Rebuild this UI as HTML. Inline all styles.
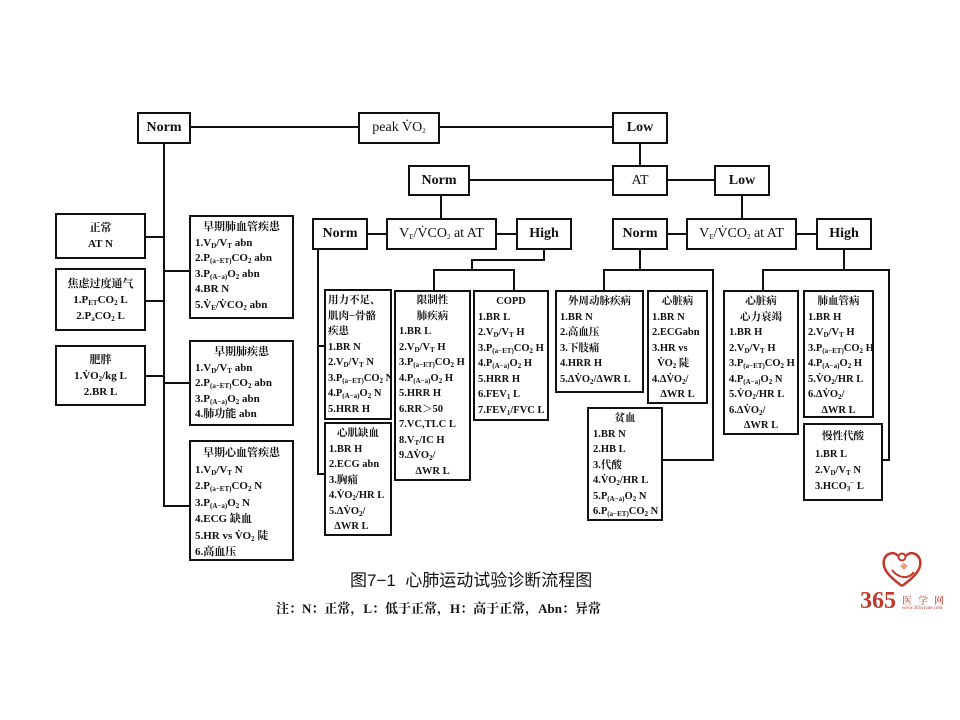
<!DOCTYPE html>
<html><head><meta charset="utf-8">
<style>
body{margin:0;width:960px;height:720px;background:#fff;position:relative;overflow:hidden;font-family:"Liberation Serif","Noto Serif CJK SC",serif;color:#111;}
.b{position:absolute;border:2px solid #111;box-sizing:border-box;background:#fff;font-size:11px;font-weight:bold;line-height:16px;padding:3px 4px;white-space:nowrap;overflow:hidden;}
.c{text-align:center;}
.h{position:absolute;border:2px solid #111;box-sizing:border-box;background:#fff;font-size:14px;font-weight:bold;text-align:center;white-space:nowrap;}
.h span{display:block;line-height:28px;}
.l{position:absolute;background:#111;}
sub{font-size:7px;vertical-align:baseline;position:relative;top:2px;line-height:0;}
sup{font-size:7px;vertical-align:baseline;position:relative;top:-4px;line-height:0;}
.t{text-align:center;}
</style></head><body>
<div class="l" style="left:190px;top:126px;width:422px;height:2px"></div>
<div class="l" style="left:163px;top:143px;width:2px;height:364px"></div>
<div class="l" style="left:639px;top:143px;width:2px;height:22px"></div>
<div class="l" style="left:470px;top:179px;width:244px;height:2px"></div>
<div class="l" style="left:440px;top:195px;width:2px;height:23px"></div>
<div class="l" style="left:741px;top:195px;width:2px;height:23px"></div>
<div class="l" style="left:368px;top:233px;width:148px;height:2px"></div>
<div class="l" style="left:668px;top:233px;width:148px;height:2px"></div>
<div class="l" style="left:145px;top:236px;width:20px;height:2px"></div>
<div class="l" style="left:145px;top:300px;width:20px;height:2px"></div>
<div class="l" style="left:145px;top:375px;width:20px;height:2px"></div>
<div class="l" style="left:163px;top:270px;width:26px;height:2px"></div>
<div class="l" style="left:163px;top:382px;width:26px;height:2px"></div>
<div class="l" style="left:163px;top:505px;width:26px;height:2px"></div>
<div class="l" style="left:317px;top:250px;width:2px;height:225px"></div>
<div class="l" style="left:317px;top:345px;width:8px;height:2px"></div>
<div class="l" style="left:317px;top:473px;width:8px;height:2px"></div>
<div class="l" style="left:543px;top:250px;width:2px;height:11px"></div>
<div class="l" style="left:471px;top:259px;width:74px;height:2px"></div>
<div class="l" style="left:471px;top:259px;width:2px;height:11px"></div>
<div class="l" style="left:433px;top:269px;width:82px;height:2px"></div>
<div class="l" style="left:433px;top:269px;width:2px;height:22px"></div>
<div class="l" style="left:513px;top:269px;width:2px;height:22px"></div>
<div class="l" style="left:639px;top:250px;width:2px;height:21px"></div>
<div class="l" style="left:603px;top:269px;width:111px;height:2px"></div>
<div class="l" style="left:603px;top:269px;width:2px;height:22px"></div>
<div class="l" style="left:712px;top:269px;width:2px;height:192px"></div>
<div class="l" style="left:662px;top:459px;width:52px;height:2px"></div>
<div class="l" style="left:843px;top:250px;width:2px;height:21px"></div>
<div class="l" style="left:762px;top:269px;width:128px;height:2px"></div>
<div class="l" style="left:762px;top:269px;width:2px;height:22px"></div>
<div class="l" style="left:888px;top:269px;width:2px;height:192px"></div>
<div class="l" style="left:882px;top:459px;width:8px;height:2px"></div>

<div class="h" style="left:137px;top:112px;width:54px;height:32px"><span>Norm</span></div>
<div class="h" style="left:358px;top:112px;width:82px;height:32px;font-weight:normal"><span>peak V̇O<sub>2</sub></span></div>
<div class="h" style="left:612px;top:112px;width:56px;height:32px"><span>Low</span></div>
<div class="h" style="left:408px;top:165px;width:62px;height:31px"><span>Norm</span></div>
<div class="h" style="left:612px;top:165px;width:56px;height:31px;font-weight:normal"><span>AT</span></div>
<div class="h" style="left:714px;top:165px;width:56px;height:31px"><span>Low</span></div>
<div class="h" style="left:312px;top:218px;width:56px;height:32px"><span>Norm</span></div>
<div class="h" style="left:386px;top:218px;width:111px;height:32px;font-weight:normal"><span>V<sub>E</sub>/V̇CO<sub>2</sub> at AT</span></div>
<div class="h" style="left:516px;top:218px;width:56px;height:32px"><span>High</span></div>
<div class="h" style="left:612px;top:218px;width:56px;height:32px"><span>Norm</span></div>
<div class="h" style="left:686px;top:218px;width:111px;height:32px;font-weight:normal"><span>V<sub>E</sub>/V̇CO<sub>2</sub> at AT</span></div>
<div class="h" style="left:816px;top:218px;width:56px;height:32px"><span>High</span></div>

<div class="b c" style="left:55px;top:213px;width:91px;height:46px;padding-top:5px">正常<br>AT N</div>
<div class="b c" style="left:55px;top:268px;width:91px;height:63px;padding-top:6px">焦虑过度通气<br>1.P<sub>ET</sub>CO<sub>2</sub> L<br>2.P<sub>a</sub>CO<sub>2</sub> L</div>
<div class="b c" style="left:55px;top:345px;width:91px;height:61px;padding-top:5px">肥胖<br>1.V̇O<sub>2</sub>/kg L<br>2.BR L</div>
<div class="b" style="left:189px;top:215px;width:105px;height:104px;line-height:15.5px"><div class="t">早期肺血管疾患</div>1.V<sub>D</sub>/V<sub>T</sub> abn<br>2.P<sub>(a−ET)</sub>CO<sub>2</sub> abn<br>3.P<sub>(A−a)</sub>O<sub>2</sub> abn<br>4.BR N<br>5.V̇<sub>E</sub>/V̇CO<sub>2</sub> abn</div>
<div class="b" style="left:189px;top:340px;width:105px;height:86px;line-height:15.5px"><div class="t">早期肺疾患</div>1.V<sub>D</sub>/V<sub>T</sub> abn<br>2.P<sub>(a−ET)</sub>CO<sub>2</sub> abn<br>3.P<sub>(A−a)</sub>O<sub>2</sub> abn<br>4.肺功能 abn</div>
<div class="b" style="left:189px;top:440px;width:105px;height:121px;line-height:16.5px"><div class="t">早期心血管疾患</div>1.V<sub>D</sub>/V<sub>T</sub> N<br>2.P<sub>(a−ET)</sub>CO<sub>2</sub> N<br>3.P<sub>(A−a)</sub>O<sub>2</sub> N<br>4.ECG 缺血<br>5.HR vs V̇O<sub>2</sub> 陡<br>6.高血压</div>

<div class="b" style="left:324px;top:289px;width:68px;height:131px;padding:2px 2px;line-height:15.5px;font-size:10.5px">用力不足、<br>肌肉−骨骼<br>疾患<br>1.BR N<br>2.V<sub>D</sub>/V<sub>T</sub> N<br>3.P<sub>(a−ET)</sub>CO<sub>2</sub> N<br>4.P<sub>(A−a)</sub>O<sub>2</sub> N<br>5.HRR H</div>
<div class="b" style="left:324px;top:422px;width:68px;height:114px;padding:2px 3px;line-height:15.5px;font-size:10.5px"><div class="t">心肌缺血</div>1.BR H<br>2.ECG abn<br>3.胸痛<br>4.V̇O<sub>2</sub>/HR L<br>5.ΔV̇O<sub>2</sub>/<br>&nbsp;&nbsp;ΔWR L</div>
<div class="b" style="left:394px;top:290px;width:77px;height:191px;padding:1px 3px;line-height:15.5px;font-size:10.5px"><div class="t">限制性<br>肺疾病</div>1.BR L<br>2.V<sub>D</sub>/V<sub>T</sub> H<br>3.P<sub>(a−ET)</sub>CO<sub>2</sub> H<br>4.P<sub>(A−a)</sub>O<sub>2</sub> H<br>5.HRR H<br>6.RR＞50<br>7.VC,TLC L<br>8.V<sub>T</sub>/IC H<br>9.ΔV̇O<sub>2</sub>/<br><div class="t">ΔWR L</div></div>
<div class="b" style="left:473px;top:290px;width:76px;height:131px;padding:2px 3px;line-height:15.5px;font-size:10.5px"><div class="t">COPD</div>1.BR L<br>2.V<sub>D</sub>/V<sub>T</sub> H<br>3.P<sub>(a−ET)</sub>CO<sub>2</sub> H<br>4.P<sub>(A−a)</sub>O<sub>2</sub> H<br>5.HRR H<br>6.FEV<sub>1</sub> L<br>7.FEV<sub>1</sub>/FVC L</div>

<div class="b" style="left:555px;top:290px;width:89px;height:103px;padding:2px 3px;line-height:15.5px;font-size:10.5px"><div class="t">外周动脉疾病</div>1.BR N<br>2.高血压<br>3.下肢痛<br>4.HRR H<br>5.ΔV̇O<sub>2</sub>/ΔWR L</div>
<div class="b" style="left:647px;top:290px;width:61px;height:114px;padding:2px 3px;line-height:15.5px;font-size:10.5px"><div class="t">心脏病</div>1.BR N<br>2.ECGabn<br>3.HR vs<br>&nbsp;&nbsp;V̇O<sub>2</sub> 陡<br>4.ΔV̇O<sub>2</sub>/<br><div class="t">ΔWR L</div></div>
<div class="b" style="left:587px;top:407px;width:76px;height:114px;padding:2px 4px;line-height:15.5px;font-size:10.5px"><div class="t">贫血</div>1.BR N<br>2.HB L<br>3.代酸<br>4.V̇O<sub>2</sub>/HR L<br>5.P<sub>(A−a)</sub>O<sub>2</sub> N<br>6.P<sub>(a−ET)</sub>CO<sub>2</sub> N</div>

<div class="b" style="left:723px;top:290px;width:76px;height:145px;padding:2px 4px;line-height:15.5px;font-size:10.5px"><div class="t">心脏病<br>心力衰竭</div>1.BR H<br>2.V<sub>D</sub>/V<sub>T</sub> H<br>3.P<sub>(a−ET)</sub>CO<sub>2</sub> H<br>4.P<sub>(A−a)</sub>O<sub>2</sub> N<br>5.V̇O<sub>2</sub>/HR L<br>6.ΔV̇O<sub>2</sub>/<br><div class="t">ΔWR L</div></div>
<div class="b" style="left:803px;top:290px;width:71px;height:128px;padding:2px 3px;line-height:15.5px;font-size:10.5px"><div class="t">肺血管病</div>1.BR H<br>2.V<sub>D</sub>/V<sub>T</sub> H<br>3.P<sub>(a−ET)</sub>CO<sub>2</sub> H<br>4.P<sub>(A−a)</sub>O<sub>2</sub> H<br>5.V̇O<sub>2</sub>/HR L<br>6.ΔV̇O<sub>2</sub>/<br><div class="t">ΔWR L</div></div>
<div class="b" style="left:803px;top:423px;width:80px;height:78px;padding:4px 10px;line-height:16px;font-size:10.5px"><div class="t" style="margin-bottom:2px">慢性代酸</div>1.BR L<br>2.V<sub>D</sub>/V<sub>T</sub> N<br>3.HCO<sub>3</sub><sup>−</sup> L</div>

<div style="position:absolute;left:350px;top:566px;font-family:'Liberation Sans','Noto Sans CJK SC',sans-serif;font-size:17px;white-space:nowrap">图7−1&nbsp; 心肺运动试验诊断流程图</div>
<div style="position:absolute;left:276px;top:598px;font-size:13px;font-weight:bold;white-space:nowrap">注：N：正常，L：低于正常，H：高于正常，Abn：异常</div>

<svg style="position:absolute;left:880px;top:548px" width="45" height="42" viewBox="0 0 45 42">
<path d="M22 38 C8 28 2 20 4 12 C6 5 14 3 18 8 M22 38 C36 28 42 20 40 12 C38 5 30 3 26 8" fill="none" stroke="#c0392b" stroke-width="2.5"/>
<circle cx="22" cy="9" r="3.5" fill="none" stroke="#c0392b" stroke-width="2"/>
<path d="M12 22 C18 30 28 32 34 24" fill="none" stroke="#c0392b" stroke-width="2"/>
<path d="M20 18 l4 -3 l4 3 l-4 4z" fill="#e8a080"/>
</svg>
<div style="position:absolute;left:860px;top:588px;font-size:24px;font-weight:bold;color:#c0392b;font-family:'Liberation Serif',serif">365</div>
<div style="position:absolute;left:902px;top:592px;font-size:10px;color:#c0392b;letter-spacing:6px;white-space:nowrap">医学网</div>
<div style="position:absolute;left:902px;top:606px;font-size:5px;color:#c0392b;white-space:nowrap">www.365yixue.com</div>
</body></html>
